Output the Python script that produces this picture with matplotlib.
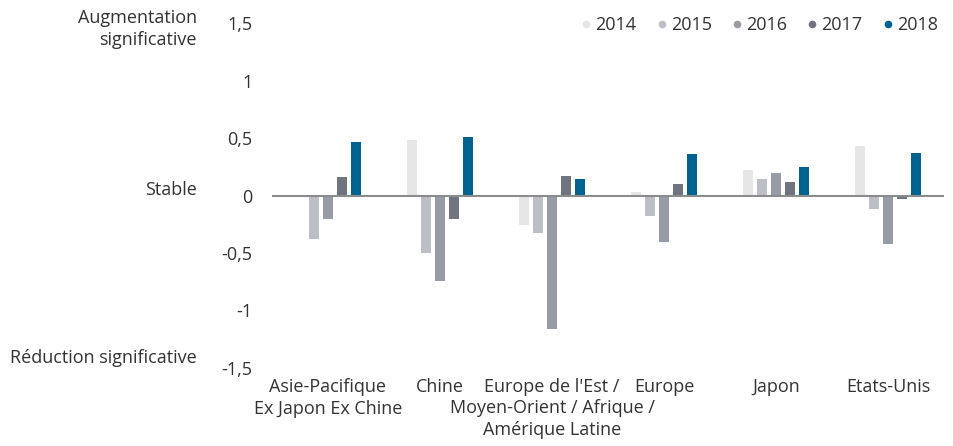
import numpy as np
import matplotlib
matplotlib.use("Agg")
import matplotlib.pyplot as plt
from matplotlib.lines import Line2D

plt.rcParams.update({"font.family": ["Open Sans", "DejaVu Sans"], "font.size": 13, "text.color": "#333333"})

CATS = ["Asie-Pacifique\nEx Japon Ex Chine", "Chine", "Europe de l'Est /",
        "Europe", "Japon", "Etats-Unis"]
CAT3_REST = "Moyen-Orient / Afrique /\nAmérique Latine"
YEARS = ["2014", "2015", "2016", "2017", "2018"]
v2014 = [0.005, 0.48, -0.26, 0.03, 0.22, 0.43]
v2015 = [-0.38, -0.50, -0.33, -0.18, 0.14, -0.12]
v2016 = [-0.20, -0.74, -1.16, -0.40, 0.20, -0.42]
v2017 = [0.16, -0.20, 0.17, 0.10, 0.12, -0.03]
v2018 = [0.47, 0.51, 0.14, 0.36, 0.25, 0.37]
VALS = [v2014, v2015, v2016, v2017, v2018]
COLS = ["#e6e6e6", "#bcc0c6", "#979ca5", "#70747f", "#00628f"]

fig = plt.figure(figsize=(9.54, 4.46), dpi=100)
ax = fig.add_axes([0.285, 0.175, 0.705, 0.773])
x = np.arange(len(CATS))
w = 0.09
for k, (vals, c) in enumerate(zip(VALS, COLS)):
    ax.bar(x + (k - 2) * 0.125, vals, width=w, color=c, zorder=2)
ax.axhline(0, color="#8c8c8c", linewidth=1.5, zorder=3)
ax.set_xlim(-0.5, len(CATS) - 0.5)
ax.set_ylim(-1.5, 1.5)
ax.set_yticks([1.5, 1, 0.5, 0, -0.5, -1, -1.5], ["1,5", "1", "0,5", "0", "-0,5", "-1", "-1,5"])
ax.set_xticks(x, CATS, linespacing=1.3)
ax.tick_params(length=0, labelsize=13, colors="#333333")
ax.tick_params(axis="y", pad=14)
ax.tick_params(axis="x", pad=7)
for s in ax.spines.values():
    s.set_visible(False)
# remaining lines of the long EMEA label, below its first line
ax.annotate(CAT3_REST, xy=(x[2], 0), xycoords=("data", "axes fraction"), xytext=(0, -22.5),
            textcoords="offset points", ha="center", va="top", fontsize=13, linespacing=1.3,
            color="#333333")

# left side annotations
fig.text(197 / 954, 1 - 9 / 446, "Augmentation\nsignificative", ha="right", va="top", fontsize=13,
         linespacing=1.3)
fig.text(197 / 954, 1 - 190 / 446, "Stable", ha="right", va="center", fontsize=13)
fig.text(197 / 954, 1 - 358 / 446, "Réduction significative", ha="right", va="center", fontsize=13)

handles = [Line2D([], [], marker="o", linestyle="", color=c, markersize=4.5, label=y)
           for y, c in zip(YEARS, COLS)]
fig.legend(handles=handles, loc="upper right", bbox_to_anchor=(1.0, 1.0), ncol=5, frameon=False,
           handletextpad=0.0, columnspacing=0.9, handlelength=1.0, fontsize=13)

fig.savefig("out.png", dpi=100)
